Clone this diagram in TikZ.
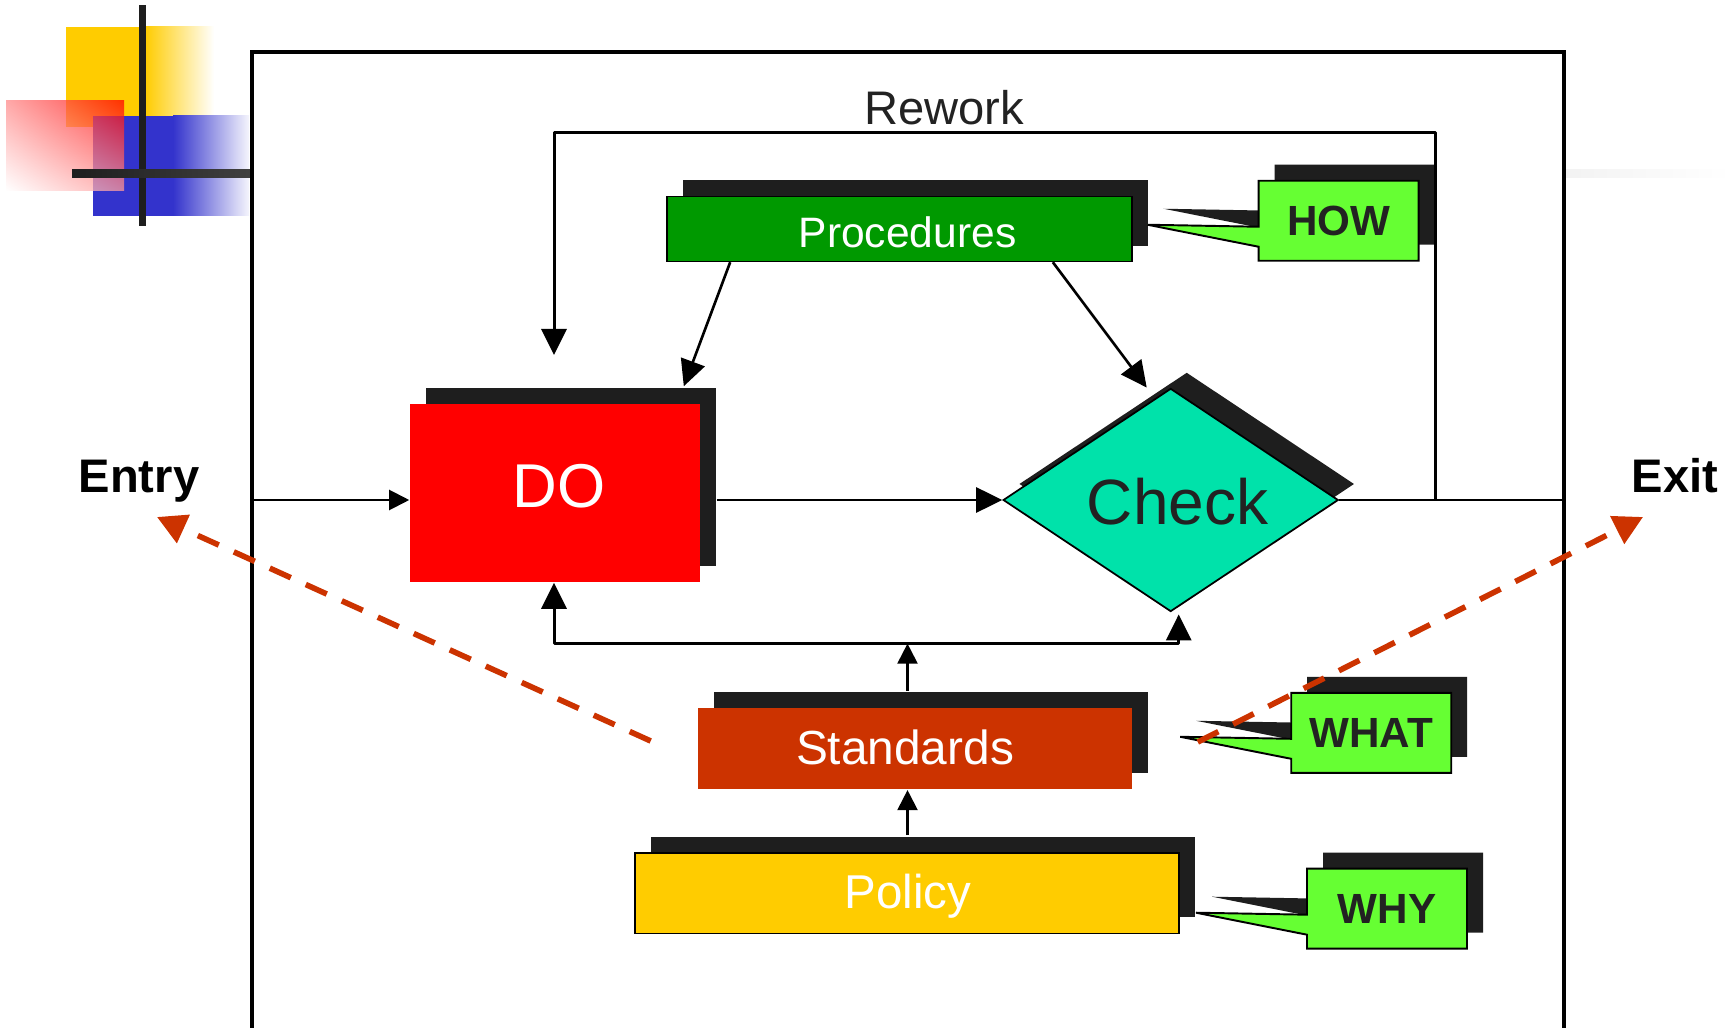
\documentclass[tikz,border=0pt]{standalone}
\usepackage{fontspec}
\setmainfont{Liberation Sans}
\usetikzlibrary{arrows.meta,calc,shapes.geometric,shadows,shadings}

\definecolor{shadowc}{HTML}{1E1E1E}
\definecolor{inkc}{HTML}{222222}
\definecolor{procgreen}{HTML}{009900}
\definecolor{dored}{HTML}{FF0000}
\definecolor{checkteal}{RGB}{0,226,170}
\definecolor{stdorange}{HTML}{CC3300}
\definecolor{policyyellow}{HTML}{FFCC00}
\definecolor{calloutgreen}{HTML}{66FF33}
\definecolor{decoblue}{HTML}{3333CC}
\definecolor{decoyellow}{HTML}{FFCC00}

% callout box with its pointer and shadow: name, centre x, centre y, text
\newcommand\pdcacallout[4]{%
  \begin{scope}[shift={(#2,#3)}]
    \fill[shadowc] (-64,-56) -- (96,-56) -- (96,24) -- (-64,24) -- (-64,10)
      -- (-175,-12) -- (-64,-10) -- cycle;
    \filldraw[calloutshape] (-80,-40) -- (80,-40) -- (80,40) -- (-80,40) -- (-80,26)
      -- (-191,4) -- (-80,6) -- cycle;
  \end{scope}
  \node[callout text] (#1) at ($(#2,#3)+(0,15)$) {#4};
}

\begin{document}
\begin{tikzpicture}[x=0.01cm, y=-0.01cm,
  shadowed/.style={general shadow={fill=shadowc, shadow xshift=0.16cm, shadow yshift=0.16cm}},
  boxtext/.style={anchor=base, inner sep=0pt},
  bigtip/.style={-{Triangle[length=0.26cm,width=0.25cm]}},
  smalltip/.style={-{Triangle[length=0.2cm,width=0.2cm]}},
  dasharrow/.style={draw=stdorange, line width=1.6pt, dash pattern=on 0.23cm off 0.165cm,
    -{Triangle[length=0.29cm,width=0.3cm]}},
  calloutshape/.style={fill=calloutgreen, draw=black, line width=0.55pt, line join=miter},
  callout text/.style={boxtext, text=inkc, font=\bfseries\fontsize{12}{12}\selectfont},
]

\useasboundingbox (0,0) rectangle (1731,1028);
\clip (0,0) rectangle (1731,1028);

% corner ornament
\fill[decoyellow] (66,27) rectangle (146,127);
\shade[left color=decoyellow, right color=white] (145,27) rectangle (214,127);
\fill[decoblue] (93,116) rectangle (174,216);
\shade[left color=decoblue, right color=white!95!decoblue] (173,116) rectangle (249,216);
\shade[upper right=red, upper left=red!45!white, lower right=red!40!white, lower left=white,
  fill opacity=0.75] (6,101) rectangle (124,191);
\fill[shadowc] (139,5) rectangle (146,226);
\shade[left color=shadowc, right color=shadowc!85!white] (72,170) rectangle (252,178);
\shade[left color=black!5, right color=white] (1564,170) rectangle (1731,178);

% frame
\draw[line width=0.95pt, fill=white] (252,52) rectangle (1564,1045);

% boxes
\node[shadowed, fill=procgreen, draw=black, line width=0.4pt,
  minimum width=4.65cm, minimum height=0.65cm, inner sep=0pt] (proc) at (899.5,229) {};
\node[boxtext, text=white, font=\fontsize{12.1}{12}\selectfont] (proctext) at (907.5,247.5) {Procedures};

\node[shadowed, fill=dored, minimum width=2.9cm, minimum height=1.78cm, inner sep=0pt] (do) at (555,493) {};
\node[boxtext, text=white, font=\fontsize{17.6}{18}\selectfont] (dotext) at (559,508) {DO};

\node[shadowed, diamond, fill=checkteal, draw=black, line width=0.5pt,
  minimum width=3.35cm, minimum height=2.23cm, inner sep=0pt] (check) at (1170.7,500) {};
\node[boxtext, text=inkc, font=\fontsize{18.2}{18}\selectfont] (checktext) at (1177.5,524.5) {Check};

\node[shadowed, fill=stdorange, minimum width=4.34cm, minimum height=0.817cm, inner sep=0pt] (std) at (915,748.5) {};
\node[boxtext, text=white, font=\fontsize{13.6}{14}\selectfont] (stdtext) at (905,764.5) {Standards};

\node[shadowed, fill=policyyellow, draw=black, line width=0.5pt,
  minimum width=5.44cm, minimum height=0.805cm, inner sep=0pt] (pol) at (907,893.2) {};
\node[boxtext, text=white, font=\fontsize{13.5}{14}\selectfont] (poltext) at (908,908) {Policy};

% callouts
\pdcacallout{how}{1338.6}{220.75}{HOW}
\pdcacallout{what}{1371.2}{732.8}{WHAT}
\pdcacallout{why}{1387}{908.7}{WHY}

% labels
\node[boxtext, text=inkc, font=\fontsize{13.4}{14}\selectfont] (rework) at (944,125) {Rework};
\node[boxtext, text=black, font=\bfseries\fontsize{13.4}{14}\selectfont] (entry) at (139,493) {Entry};
\node[boxtext, text=black, font=\bfseries\fontsize{13.4}{14}\selectfont] (exit) at (1675,493) {Exit};

% main flow
\coordinate (flowL) at (252,500);
\coordinate (flowR) at (1564,500);
\coordinate (rwR) at (1435,500);
\coordinate (rwtop) at (554,132.5);
\coordinate (rwend) at (554,355);
\coordinate (bus) at (907.5,643.6);

\draw[line width=0.6pt, smalltip] (flowL) -- (flowL -| do.west);
\draw[line width=0.75pt, bigtip] ($(do.east)+(16,7)$) -- (check.west);
\draw[line width=0.75pt] (check.east) -- (flowR);
\draw[line width=0.85pt, line join=round, bigtip] (rwR) |- (rwtop) -- (rwend);

\draw[line width=0.75pt, bigtip] ($(proc.south west)+(64,0)$) -- ($(do.north east)+(-17,-17)$);
\draw[line width=0.75pt, bigtip] ($(proc.south east)+(-80,0)$) -- ($(check.north)+(-24,0)$);

\draw[line width=0.85pt, line join=round,
  {Triangle[length=0.26cm,width=0.25cm]}-{Triangle[length=0.26cm,width=0.25cm]}]
  ($(do.south)+(-1,0)$) |- (bus) -| ($(check.south)+(8,2)$);
\draw[line width=0.6pt, smalltip] ($(std.north)+(-7.5,-16)$) -- (bus);
\draw[line width=0.6pt, smalltip] ($(pol.north)+(0.5,-17)$) -- ($(std.south)+(-7.5,0)$);

% entry and exit
\coordinate (entrytip) at (157,517);
\coordinate (exittip) at (1643,517);
\draw[dasharrow] ($(std.west)+(-46.5,-7.5)$) -- (entrytip);
\draw[dasharrow] ($(std.east)+(65,-6.5)$) -- (exittip);

\end{tikzpicture}
\end{document}
